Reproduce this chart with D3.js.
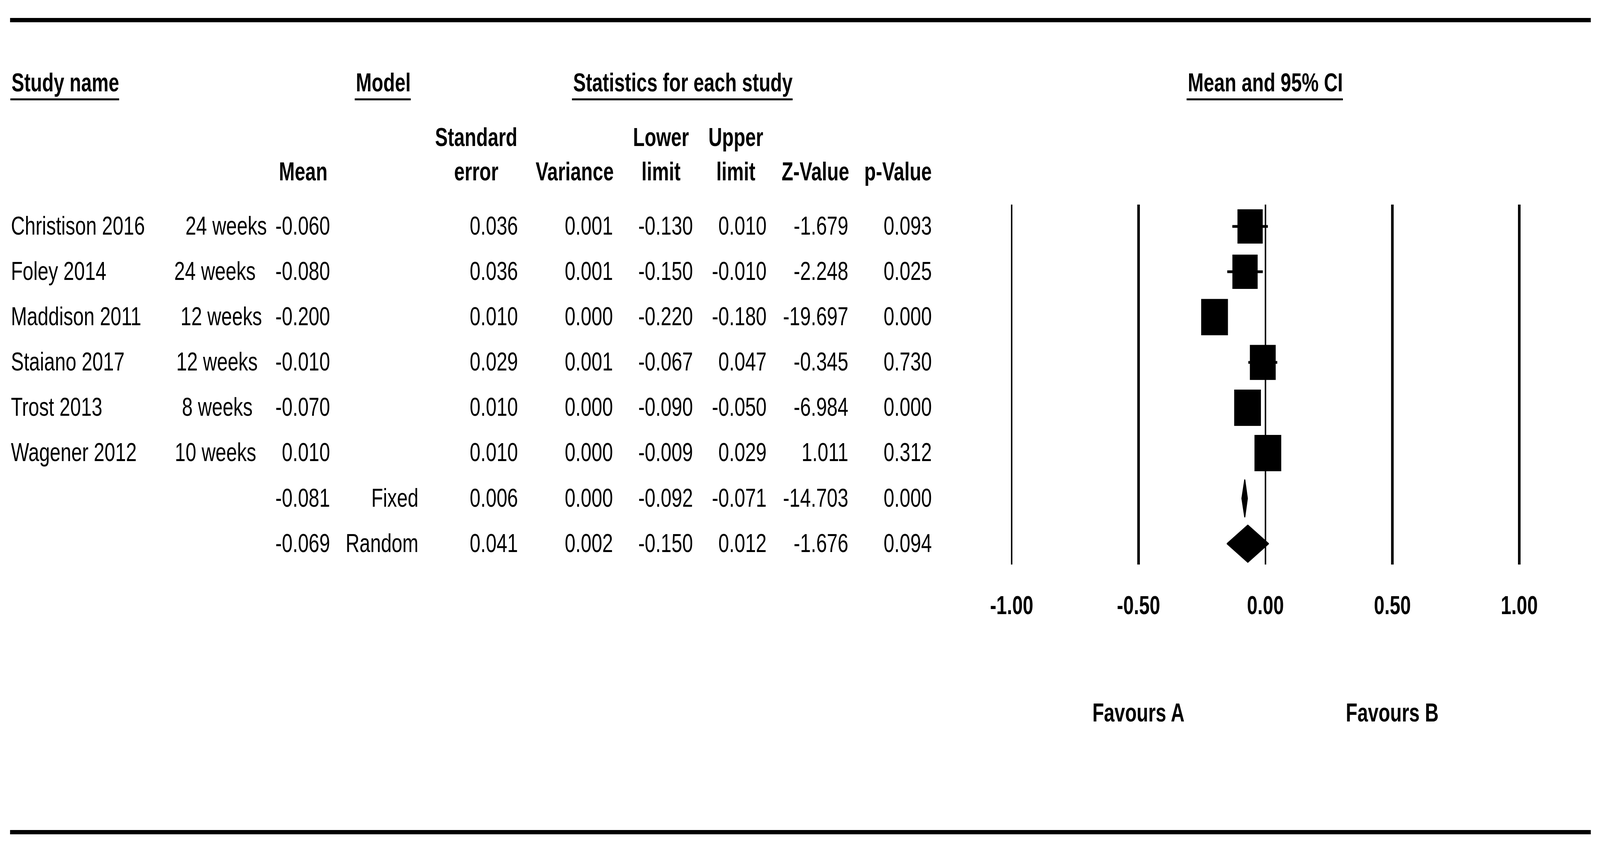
<!DOCTYPE html>
<html>
<head>
<meta charset="utf-8">
<script src="https://cdn.jsdelivr.net/npm/d3@7"></script>
<style>
  html, body { margin: 0; padding: 0; background: #fff; overflow: hidden; }
  svg { display: block; width: 100vw; height: 100vh; }
  text { font-family: "Liberation Sans", Arial, sans-serif; font-size: 67px; fill: #000; }
  .bold { font-weight: bold; font-size: 66px; }
</style>
</head>
<body>
<div id="chart"></div>
<script>
// Study rows
const studies = ["Christison 2016", "Foley 2014", "Maddison 2011", "Staiano 2017", "Trost 2013", "Wagener 2012"];
const durations = ["24 weeks", "24 weeks", "12 weeks", "12 weeks", "8 weeks", "10 weeks"];
const means = [-0.060, -0.080, -0.200, -0.010, -0.070, 0.010];
const stdErrors = [0.036, 0.036, 0.010, 0.029, 0.010, 0.010];
const variances = [0.001, 0.001, 0.000, 0.001, 0.000, 0.000];
const lowers = [-0.130, -0.150, -0.220, -0.067, -0.090, -0.009];
const uppers = [0.010, -0.010, -0.180, 0.047, -0.050, 0.029];
const zValues = [-1.679, -2.248, -19.697, -0.345, -6.984, 1.011];
const pValues = [0.093, 0.025, 0.000, 0.730, 0.000, 0.312];
// relative (random effects) weights, percent
const weights = [15.6, 15.6, 17.5, 16.3, 17.5, 17.5];

// Summary rows
const models = ["Fixed", "Random"];
const sumMeans = [-0.081, -0.069];
const sumStdErrors = [0.006, 0.041];
const sumVariances = [0.000, 0.002];
const sumLowers = [-0.092, -0.150];
const sumUppers = [-0.071, 0.012];
const sumZValues = [-14.703, -1.676];
const sumPValues = [0.000, 0.094];

// Axis
const tickValues = [-1, -0.5, 0, 0.5, 1];
const tickLabels = ["-1.00", "-0.50", "0.00", "0.50", "1.00"];
const favourLabels = ["Favours A", "Favours B"];

// drawing is laid out in 5560x2190 units and stretched to the window
const width = 5560;
const height = 2190;

const fmt = d3.formatLocale({decimal: ".", thousands: ",", grouping: [3], currency: ["", ""], minus: "-"}).format(".3f");

const svg = d3.select("#chart")
    .append("svg")
    .attr("viewBox", `0 0 ${width} ${height}`)
    .attr("preserveAspectRatio", "none");

svg.append("rect").attr("width", width).attr("height", height).attr("fill", "#fff");

// top and bottom rules
svg.append("rect").attr("x", 35).attr("y", 46).attr("width", 5493).attr("height", 11);
svg.append("rect").attr("x", 35).attr("y", 2126).attr("width", 5493).attr("height", 11);

// row positions
const nRows = studies.length + models.length;
const y = d3.scaleLinear().domain([0, nRows - 1]).range([580, 580 + 116.1 * (nRows - 1)]);
const base = 21; // baseline offset from row centre

// top headers with underline
function underlined(txt, x, anchor) {
    const t = svg.append("text").attr("class", "bold")
        .attr("x", x).attr("y", 234)
        .attr("text-anchor", anchor)
        .text(txt);
    const b = t.node().getBBox();
    svg.append("rect")
        .attr("x", b.x - 4).attr("y", 252)
        .attr("width", b.width + 4).attr("height", 5);
}
underlined("Study name", 40, "start");
underlined("Model", 1332, "middle");
underlined("Statistics for each study", 2373, "middle");
underlined("Mean and 95% CI", 4397, "middle");

// column headers
const headers = [
    {lines: ["Mean"], x: 1138, anchor: "end"},
    {lines: ["Standard", "error"], x: 1655, anchor: "middle"},
    {lines: ["Variance"], x: 2133, anchor: "end"},
    {lines: ["Lower", "limit"], x: 2297, anchor: "middle"},
    {lines: ["Upper", "limit"], x: 2557, anchor: "middle"},
    {lines: ["Z-Value"], x: 2951, anchor: "end"},
    {lines: ["p-Value"], x: 3238, anchor: "end"}
];
headers.forEach(h => {
    const start = h.lines.length === 2 ? 374 : 462;
    h.lines.forEach((l, i) => {
        svg.append("text").attr("class", "bold")
            .attr("x", h.x).attr("y", start + i * 88)
            .attr("text-anchor", h.anchor)
            .text(l);
    });
});

// table body
const cols = [
    {key: "mean", x: 1147},
    {key: "se", x: 1800},
    {key: "v", x: 2130},
    {key: "lo", x: 2408},
    {key: "hi", x: 2664},
    {key: "z", x: 2948},
    {key: "p", x: 3238}
];

const rows = studies.map((s, i) => ({
    name: s, dur: durations[i], model: "",
    mean: means[i], se: stdErrors[i], v: variances[i], lo: lowers[i], hi: uppers[i],
    z: zValues[i], p: pValues[i], w: weights[i], summary: false
})).concat(models.map((m, i) => ({
    name: "", dur: "", model: m,
    mean: sumMeans[i], se: sumStdErrors[i], v: sumVariances[i], lo: sumLowers[i], hi: sumUppers[i],
    z: sumZValues[i], p: sumPValues[i], summary: true
})));

// the duration column is not perfectly aligned in the original
const durShift = [34, -5, 17, 2, 3, -3];

const body = svg.append("g");
rows.forEach((r, i) => {
    const yb = y(i) + base;
    if (r.name) body.append("text").attr("x", 38).attr("y", yb).text(r.name);
    if (r.dur) body.append("text").attr("x", 752 + durShift[i]).attr("y", yb)
        .attr("text-anchor", "middle").text(r.dur);
    if (r.model) body.append("text").attr("x", 1454).attr("y", yb)
        .attr("text-anchor", "end").text(r.model);
    cols.forEach(c => {
        body.append("text").attr("x", c.x).attr("y", yb)
            .attr("text-anchor", "end").text(fmt(r[c.key]));
    });
});

// forest plot
const x = d3.scaleLinear().domain([-1, 1]).range([3515, 5279]);
const plotTop = 524, plotBottom = 1446;

const axis = d3.axisBottom(x)
    .tickValues(tickValues)
    .tickSize(-(plotBottom - plotTop))
    .tickFormat((d, i) => tickLabels[i]);

const gAxis = svg.append("g")
    .attr("transform", `translate(0,${plotBottom})`)
    .call(axis);
gAxis.select(".domain").remove();
gAxis.selectAll(".tick line")
    .attr("stroke", "#000")
    .attr("stroke-width", d => (d === -1 || d === 0) ? 5 : 9);
gAxis.selectAll(".tick text")
    .attr("class", "bold")
    .attr("y", 127).attr("dy", null)
    .attr("fill", "#000")
    .style("font-family", '"Liberation Sans", Arial, sans-serif')
    .style("font-size", "66px");

// favours labels
svg.selectAll(".favour")
    .data(favourLabels)
    .enter()
    .append("text")
    .attr("class", "bold favour")
    .attr("x", (d, i) => x(i === 0 ? -0.5 : 0.5))
    .attr("y", 1848)
    .attr("text-anchor", "middle")
    .text(d => d);

const side = d3.scaleSqrt().domain([0, 17.5]).range([0, 93]);
const studyRows = rows.filter(r => !r.summary);
const marks = svg.append("g");

marks.selectAll(".ci")
    .data(studyRows)
    .enter()
    .append("line")
    .attr("x1", d => x(d.lo)).attr("x2", d => x(d.hi))
    .attr("y1", (d, i) => y(i)).attr("y2", (d, i) => y(i))
    .attr("stroke", "#000").attr("stroke-width", 7);

marks.selectAll(".box")
    .data(studyRows)
    .enter()
    .append("rect")
    .attr("x", d => x(d.mean) - side(d.w) / 2)
    .attr("y", (d, i) => y(i) - side(d.w) / 2)
    .attr("width", d => side(d.w))
    .attr("height", d => side(d.w))
    .attr("fill", "#000");

const dh = 47;
marks.selectAll(".diamond")
    .data(rows.filter(r => r.summary))
    .enter()
    .append("polygon")
    .attr("points", (d, i) => {
        const cy = y(studies.length + i);
        return [[x(d.lo), cy], [x(d.mean), cy - dh], [x(d.hi), cy], [x(d.mean), cy + dh]]
            .map(p => p.join(",")).join(" ");
    })
    .attr("fill", "#000")
    .attr("stroke", "#000")
    .attr("stroke-width", 4)
    .attr("stroke-linejoin", "round");
</script>
</body>
</html>
